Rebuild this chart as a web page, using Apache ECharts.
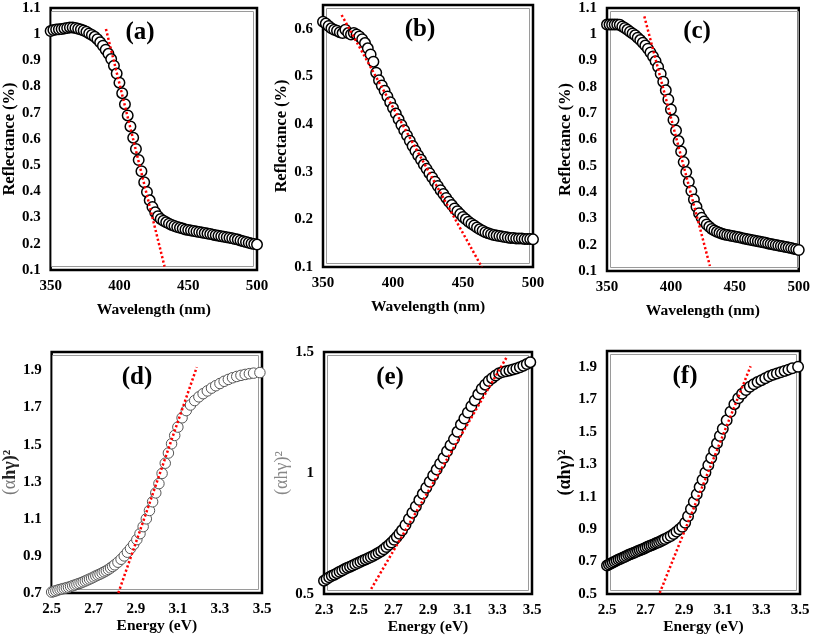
<!DOCTYPE html>
<html>
<head>
<meta charset="utf-8">
<script src="https://cdn.jsdelivr.net/npm/echarts@6/dist/echarts.min.js"></script>
<style>
html,body{margin:0;padding:0;background:#fff;}
#chart{width:813px;height:639px;}
</style>
</head>
<body>
<div id="chart"></div>
<script>
// ---------- DATA ----------
const wavelength = [
 350,352,354,356,358,360,362,364,366,368,
 370,372,374,376,378,380,382,384,386,388,
 390,392,394,396,398,400,402,404,406,408,
 410,412,414,416,418,420,422,424,426,428,
 430,432,434,436,438,440,442,444,446,448,
 450,452,454,456,458,460,462,464,466,468,
 470,472,474,476,478,480,482,484,486,488,
 490,492,494,496,498,500];

const reflA = [
 1.012,1.016,1.018,1.019,1.020,1.022,1.024,1.026,1.026,1.024,
 1.021,1.018,1.014,1.009,1.003,0.997,0.990,0.981,0.969,0.956,
 0.941,0.925,0.905,0.880,0.850,0.815,0.775,0.733,0.690,0.648,
 0.605,0.562,0.520,0.477,0.435,0.398,0.366,0.340,0.320,0.305,
 0.295,0.288,0.282,0.277,0.272,0.268,0.264,0.261,0.258,0.255,
 0.253,0.251,0.249,0.247,0.245,0.243,0.241,0.239,0.237,0.235,
 0.233,0.231,0.229,0.227,0.225,0.223,0.221,0.218,0.216,0.213,
 0.210,0.207,0.204,0.201,0.199,0.197];

const reflB = [
 0.615,0.611,0.606,0.601,0.598,0.596,0.593,0.591,0.598,0.591,
 0.588,0.591,0.588,0.584,0.578,0.570,0.559,0.546,0.531,0.508,
 0.492,0.481,0.470,0.458,0.446,0.434,0.422,0.410,0.398,0.387,
 0.376,0.365,0.354,0.344,0.334,0.325,0.315,0.306,0.297,0.288,
 0.279,0.270,0.261,0.253,0.245,0.237,0.230,0.223,0.217,0.211,
 0.205,0.200,0.195,0.191,0.187,0.183,0.179,0.176,0.173,0.171,
 0.169,0.167,0.166,0.165,0.164,0.163,0.162,0.161,0.161,0.160,
 0.160,0.160,0.159,0.159,0.159,0.158];

const reflC = [
 1.037,1.037,1.037,1.037,1.037,1.036,1.030,1.024,1.017,1.010,
 1.003,0.996,0.987,0.978,0.968,0.957,0.945,0.931,0.916,0.898,
 0.876,0.850,0.820,0.787,0.752,0.714,0.674,0.634,0.594,0.554,
 0.514,0.476,0.439,0.404,0.372,0.344,0.320,0.302,0.288,0.277,
 0.268,0.260,0.254,0.249,0.245,0.242,0.239,0.237,0.235,0.233,
 0.231,0.229,0.227,0.225,0.223,0.221,0.219,0.217,0.215,0.213,
 0.211,0.209,0.207,0.205,0.203,0.201,0.199,0.197,0.195,0.193,
 0.191,0.189,0.187,0.185,0.183,0.180];

const energyDF = [
 2.50,2.51,2.52,2.53,2.54,2.55,2.56,2.57,2.58,2.59,
 2.60,2.61,2.62,2.63,2.64,2.65,2.66,2.67,2.68,2.69,
 2.70,2.71,2.72,2.73,2.74,2.75,2.76,2.77,2.78,2.79,
 2.80,2.815,2.83,2.845,2.86,2.875,2.89,2.905,2.92,2.935,
 2.95,2.965,2.98,2.995,3.01,3.025,3.04,3.055,3.07,3.085,
 3.10,3.12,3.14,3.16,3.18,3.20,3.22,3.24,3.26,3.28,
 3.30,3.32,3.34,3.36,3.38,3.40,3.42,3.44,3.46,3.49];

const taucD = [
 0.705,0.708,0.712,0.716,0.719,0.722,0.725,0.728,0.731,0.735,
 0.739,0.743,0.747,0.751,0.755,0.760,0.765,0.770,0.775,0.780,
 0.786,0.792,0.797,0.802,0.808,0.814,0.820,0.827,0.835,0.843,
 0.852,0.866,0.882,0.900,0.920,0.940,0.962,0.988,1.020,1.058,
 1.100,1.145,1.192,1.240,1.290,1.345,1.400,1.455,1.505,1.550,
 1.595,1.645,1.684,1.714,1.738,1.758,1.775,1.790,1.805,1.818,
 1.830,1.842,1.852,1.861,1.868,1.874,1.879,1.883,1.886,1.889];

const taucF = [
 0.676,0.682,0.688,0.694,0.700,0.707,0.713,0.718,0.723,0.728,
 0.734,0.740,0.745,0.750,0.755,0.760,0.765,0.770,0.775,0.780,
 0.786,0.791,0.796,0.801,0.806,0.811,0.816,0.821,0.827,0.833,
 0.839,0.848,0.858,0.870,0.885,0.900,0.915,0.940,0.980,1.025,
 1.070,1.115,1.160,1.205,1.250,1.295,1.340,1.385,1.430,1.475,
 1.520,1.572,1.625,1.672,1.708,1.736,1.759,1.779,1.795,1.808,
 1.820,1.832,1.844,1.853,1.861,1.869,1.877,1.885,1.893,1.903];

const energyE = [
 2.30,2.315,2.33,2.345,2.36,2.375,2.39,2.405,2.42,2.435,
 2.45,2.465,2.48,2.495,2.51,2.525,2.54,2.555,2.57,2.585,
 2.60,2.615,2.63,2.645,2.66,2.675,2.69,2.705,2.72,2.735,
 2.75,2.77,2.79,2.81,2.83,2.85,2.87,2.89,2.91,2.93,
 2.95,2.97,2.99,3.01,3.03,3.05,3.07,3.09,3.11,3.13,
 3.15,3.17,3.19,3.21,3.23,3.25,3.27,3.29,3.31,3.33,
 3.35,3.37,3.39,3.41,3.43,3.45,3.47,3.49];

const taucE = [
 0.555,0.562,0.569,0.575,0.580,0.586,0.592,0.597,0.603,0.608,
 0.613,0.618,0.623,0.628,0.633,0.638,0.643,0.648,0.653,0.658,
 0.664,0.670,0.677,0.685,0.694,0.703,0.713,0.724,0.736,0.749,
 0.763,0.785,0.810,0.836,0.862,0.888,0.914,0.939,0.964,0.990,
 1.014,1.038,1.062,1.090,1.115,1.140,1.170,1.200,1.225,1.250,
 1.276,1.300,1.325,1.348,1.365,1.380,1.392,1.403,1.412,1.417,
 1.420,1.424,1.428,1.432,1.437,1.443,1.450,1.458];

// tangent (fit) lines: [x, y] end points
const fitA = [[390.2,1.020],[432.8,0.113]];
const fitB = [[363.3,0.629],[463.4,0.100]];
const fitC = [[379.2,1.068],[430.5,0.119]];
const fitD = [[2.817,0.700],[3.190,1.918]];
const fitE = [[2.572,0.521],[3.356,1.481]];
const fitF = [[2.773,0.506],[3.244,1.906]];

const panelTags = ['(a)','(b)','(c)','(d)','(e)','(f)'];

// ---------- CHART ----------
const FONT = 'Liberation Serif';
const oddTenths = v => { const t = Math.round(v*10); return (Math.abs(t) % 2 === 1) ? (t/10).toFixed(1) : ''; };

const panels = [
 {g:{left:48,top:8,width:209,height:262}, x:{min:350,max:500,interval:50}, y:{min:0.1,max:1.1,interval:0.1},
  xs:wavelength, ys:reflA, fit:fitA, xName:'Wavelength (nm)', yName:'Reflectance (%)', tag:[140,33], yGap:25, xGap:32},
 {g:{left:323,top:5,width:210,height:262}, x:{min:350,max:500,interval:50}, y:{min:0.1,max:0.65,interval:0.1, hideMax:true},
  xs:wavelength, ys:reflB, fit:fitB, xName:'Wavelength (nm)', yName:'Reflectance (%)', tag:[420,30], yGap:25, xGap:32},
 {g:{left:607,top:8,width:195,height:263}, x:{min:350,max:500,interval:50}, y:{min:0.1,max:1.1,interval:0.1},
  xs:wavelength, ys:reflC, fit:fitC, xName:'Wavelength (nm)', yName:'Reflectance (%)', tag:[697,32], yGap:25, xGap:32},
 {g:{left:49,top:352,width:213,height:241}, x:{min:2.5,max:3.5,interval:0.1,odd:true}, y:{min:0.7,max:2.0,interval:0.1,odd:true},
  xs:energyDF, ys:taucD, fit:fitD, xName:'Energy (eV)', yName:'d', tag:[137,378], yGap:27, xGap:25, light:true},
 {g:{left:324,top:352,width:208,height:242}, x:{min:2.3,max:3.5,interval:0.1,odd:true}, y:{min:0.5,max:1.5,interval:0.5},
  xs:energyE, ys:taucE, fit:fitE, xName:'Energy (eV)', yName:'e', tag:[390,378], yGap:20, xGap:25},
 {g:{left:607,top:351,width:193,height:243}, x:{min:2.5,max:3.5,interval:0.1,odd:true}, y:{min:0.5,max:2.0,interval:0.1,odd:true},
  xs:energyDF, ys:taucF, fit:fitF, xName:'Energy (eV)', yName:'f', tag:[685,377], yGap:27, xGap:25}
];

const grid=[], xAxis=[], yAxis=[], series=[], graphic=[];
const labelStyle = {color:'#000', fontFamily:FONT, fontWeight:'bold', fontSize:15};

panels.forEach((p,i)=>{
  grid.push(Object.assign({show:true, borderColor:'#000', borderWidth:2.5, backgroundColor:'transparent', containLabel:false}, p.g));
  xAxis.push({
    type:'value', gridIndex:i, min:p.x.min, max:p.x.max, interval:p.x.interval,
    axisLine:{show:false}, axisTick:{show:false}, splitLine:{show:false},
    axisLabel:Object.assign({margin:9, formatter: p.x.odd ? oddTenths : undefined, showMinLabel:true, showMaxLabel:true}, labelStyle),
    name:p.xName, nameLocation:'middle', nameGap:p.xGap,
    nameTextStyle:{color:'#000', fontFamily:FONT, fontWeight:'bold', fontSize:15.5}
  });
  let yNameText, yNameStyle;
  if (p.yName==='d') {
    yNameText = '{g|(α}{b|hγ)²}';
    yNameStyle = {fontFamily:FONT, fontSize:18, rich:{g:{color:'#777', fontFamily:FONT, fontSize:18}, b:{color:'#222', fontFamily:FONT, fontSize:18, fontWeight:'bold'}}};
  } else if (p.yName==='e') {
    yNameText = '(αhγ)²';
    yNameStyle = {color:'#888', fontFamily:FONT, fontSize:18};
  } else if (p.yName==='f') {
    yNameText = '(αhγ)²';
    yNameStyle = {color:'#000', fontFamily:FONT, fontWeight:'bold', fontSize:18};
  } else {
    yNameText = p.yName;
    yNameStyle = {color:'#000', fontFamily:FONT, fontWeight:'bold', fontSize:16.5};
  }
  yAxis.push({
    type:'value', gridIndex:i, min:p.y.min, max:p.y.max, interval:p.y.interval,
    axisLine:{show:false}, axisTick:{show:false}, splitLine:{show:false},
    axisLabel:Object.assign({margin:10, formatter: p.y.odd ? oddTenths : undefined, showMaxLabel: !p.y.hideMax}, labelStyle),
    name:yNameText, nameLocation:'middle', nameGap:p.yGap, nameRotate:90,
    nameTextStyle:yNameStyle
  });
  series.push({
    type:'scatter', xAxisIndex:i, yAxisIndex:i, z:3,
    data:p.xs.map((x,k)=>[x,p.ys[k]]),
    symbol:'circle', symbolSize:10.5,
    itemStyle:{color:'#fff', borderColor: p.light ? '#555' : '#000', borderWidth: p.light ? 1 : 1.5, opacity:1},
    emphasis:{disabled:true}, silent:true
  });
  series.push({
    type:'line', xAxisIndex:i, yAxisIndex:i, z:5,
    data:p.fit, symbol:'none', silent:true,
    lineStyle:{color:'#ff0000', width:2.5, type:[2.2,2.3]}
  });
  graphic.push({
    type:'rect', silent:true, z:1,
    shape:{x:p.g.left+3.5, y:p.g.top+3.5, width:p.g.width-7, height:p.g.height-7},
    style:{fill:'none', stroke:'#9a9a9a', lineWidth:1}
  });
  graphic.push({
    type:'text', silent:true, z:10, x:p.tag[0], y:p.tag[1],
    style:{text:panelTags[i], font:'bold 25px "Liberation Serif"', fill:'#000',
           align:'center', verticalAlign:'middle', textAlign:'center', textVerticalAlign:'middle'}
  });
});

const chart = echarts.init(document.getElementById('chart'), null, {renderer:'canvas'});
chart.setOption({animation:false, backgroundColor:'#fff', grid, xAxis, yAxis, series, graphic});
</script>
</body>
</html>
